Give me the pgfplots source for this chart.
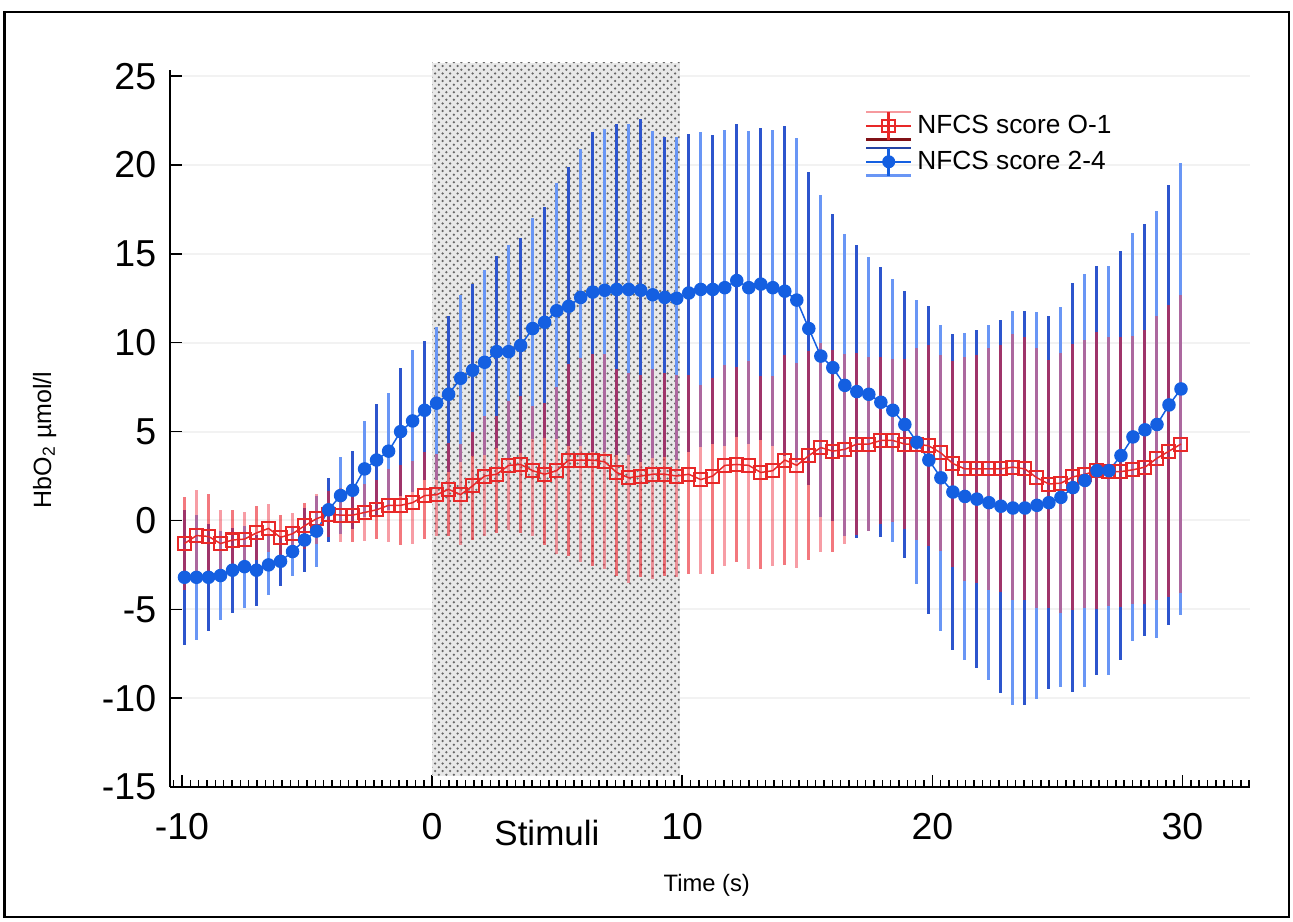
\documentclass[border=0pt]{standalone}
\usepackage{fontspec}
\setmainfont{Liberation Sans}
\usepackage{pgfplots}
\pgfplotsset{compat=1.18}
\usepackage{pgfplotstable}
\usetikzlibrary{patterns}

\definecolor{redmark}{RGB}{232,40,40}
\definecolor{redbar}{RGB}{235,30,40}
\definecolor{redbarlight}{RGB}{240,60,75}
\definecolor{bluemark}{RGB}{20,95,225}
\definecolor{bluebar}{RGB}{45,85,205}
\definecolor{bluebarlight}{RGB}{105,150,245}

% time, mean, half error (NFCS 2-4)
\pgfplotstableread{
t m e
-9.90 -3.2 3.8
-9.42 -3.2 3.5
-8.94 -3.2 3.0
-8.46 -3.1 2.5
-7.98 -2.8 2.4
-7.50 -2.6 2.3
-7.02 -2.8 2.0
-6.54 -2.5 1.7
-6.06 -2.3 1.4
-5.58 -1.75 1.35
-5.10 -1.1 1.8
-4.62 -0.6 2.0
-4.14 0.6 1.8
-3.66 1.4 2.15
-3.18 1.7 2.2
-2.70 2.9 2.7
-2.22 3.4 3.15
-1.74 3.9 3.3
-1.26 5.0 3.6
-0.78 5.6 4.0
-0.30 6.2 3.9
0.18 6.6 4.3
0.66 7.1 4.4
1.14 8.0 4.7
1.62 8.45 4.85
2.10 8.9 5.2
2.58 9.5 5.4
3.06 9.5 6.0
3.54 9.85 6.05
4.02 10.8 6.2
4.50 11.15 6.5
4.98 11.8 7.2
5.46 12.05 7.85
5.94 12.55 8.35
6.42 12.85 9.0
6.90 12.95 9.1
7.38 13.0 9.3
7.86 13.0 9.3
8.34 12.95 9.65
8.82 12.7 9.2
9.30 12.55 9.0
9.78 12.5 9.1
10.26 12.8 8.95
10.74 13.0 8.85
11.22 13.0 8.7
11.70 13.1 8.9
12.18 13.5 8.8
12.66 13.1 8.8
13.14 13.3 8.8
13.62 13.1 8.9
14.10 12.9 9.3
14.58 12.4 9.1
15.06 10.8 8.8
15.54 9.25 9.05
16.02 8.6 8.65
16.50 7.6 8.5
16.98 7.25 8.25
17.46 7.1 7.7
17.94 6.65 7.6
18.42 6.2 7.4
18.90 5.4 7.5
19.38 4.4 8.0
19.86 3.4 8.65
20.34 2.4 8.6
20.82 1.6 8.9
21.30 1.35 9.2
21.78 1.2 9.5
22.26 1.0 10.0
22.74 0.8 10.5
23.22 0.7 11.1
23.70 0.7 11.1
24.18 0.85 10.9
24.66 1.0 10.5
25.14 1.3 10.7
25.62 1.85 11.5
26.10 2.25 11.6
26.58 2.8 11.5
27.06 2.8 11.5
27.54 3.65 11.5
28.02 4.7 11.5
28.50 5.1 11.6
28.98 5.4 12.0
29.46 6.5 12.4
29.94 7.4 12.7
}\bluetab

% time, mean, half error (NFCS 0-1)
\pgfplotstableread{
t m e
-9.90 -1.3 2.6
-9.42 -0.85 2.55
-8.94 -0.9 2.4
-8.46 -1.3 1.9
-7.98 -1.1 1.7
-7.50 -1.05 1.5
-7.02 -0.7 1.5
-6.54 -0.45 1.35
-6.06 -0.95 1.25
-5.58 -0.75 1.15
-5.10 -0.3 1.3
-4.62 0.1 1.4
-4.14 0.35 1.3
-3.66 0.3 1.5
-3.18 0.3 1.5
-2.70 0.45 1.6
-2.22 0.6 1.65
-1.74 0.85 2.05
-1.26 0.85 2.25
-0.78 1.0 2.35
-0.30 1.4 2.45
0.18 1.45 2.3
0.66 1.75 2.6
1.14 1.45 2.85
1.62 1.95 3.05
2.10 2.5 3.35
2.58 2.6 3.3
3.06 3.1 3.65
3.54 3.15 3.85
4.02 2.8 3.65
4.50 2.6 4.0
4.98 2.8 4.7
5.46 3.4 5.4
5.94 3.4 5.75
6.42 3.4 5.95
6.90 3.3 6.05
7.38 2.7 5.8
7.86 2.4 5.9
8.34 2.5 5.7
8.82 2.6 5.9
9.30 2.6 5.7
9.78 2.5 5.7
10.26 2.6 5.6
10.74 2.3 5.3
11.22 2.5 5.5
11.70 3.1 5.65
12.18 3.15 5.5
12.66 3.1 5.85
13.14 2.7 5.45
13.62 2.8 5.35
14.10 3.4 5.9
14.58 3.1 5.75
15.06 3.65 5.9
15.54 4.1 5.9
16.02 3.9 5.7
16.50 4.0 5.35
16.98 4.3 5.1
17.46 4.3 4.9
17.94 4.5 4.7
18.42 4.5 4.6
18.90 4.3 4.8
19.38 4.3 5.4
19.86 4.2 5.65
20.34 3.8 5.5
20.82 3.2 5.8
21.30 2.9 6.3
21.78 2.9 6.4
22.26 2.9 6.8
22.74 2.9 6.95
23.22 3.0 7.5
23.70 2.9 7.4
24.18 2.4 7.3
24.66 2.05 7.0
25.14 2.1 7.3
25.62 2.45 7.5
26.10 2.6 7.55
26.58 2.8 7.8
27.06 2.75 7.55
27.54 2.75 7.6
28.02 2.85 7.55
28.50 3.0 7.7
28.98 3.5 8.0
29.46 3.9 8.2
29.94 4.3 8.4
}\redtab

\begin{document}
\begin{tikzpicture}
\begin{axis}[
    scale only axis,
    width=432pt, height=286.8pt,
    xmin=-10.48, xmax=32.7,
    ymin=-15, ymax=25.35,
    axis lines=left,
    axis line style={-, line width=1pt},
    xtick={-20,-10,...,40},
    ytick={-15,-10,...,25},
    minor x tick num=29,
    tick align=inside,
    major tick length=5pt,
    minor tick length=3pt,
    tick style={black, line width=0.6pt},
    ymajorgrids,
    major grid style={gray!10, line width=0.8pt},
    /pgf/number format/assume math mode=true,
    ticklabel style={font=\fontsize{15}{15}\selectfont},
    xticklabel style={yshift=-7pt},
    yticklabel style={xshift=-2pt},
    xlabel={Time (s)},
    xlabel style={at={(rel axis cs:0.497,-0.137)}, anchor=center, font=\fontsize{9.5}{10}\selectfont},
    ylabel={HbO\textsubscript{2} µmol/l},
    ylabel style={at={(rel axis cs:-0.116,0.484)}, anchor=center, font=\fontsize{10}{11}\selectfont},
    legend style={at={(rel axis cs:0.643,0.945)}, anchor=north west, draw=none, fill=none,
        font=\fontsize{10.5}{12}\selectfont, row sep=1.5pt, inner sep=0pt},
    legend cell align=left,
    clip=false,
]

% stimulus period
\addplot[forget plot, draw=none, fill=gray!18] coordinates {(0,-14.4) (0,25.75) (9.9,25.75) (9.9,-14.4)} -- cycle;
\addplot[forget plot, draw=none, pattern=crosshatch dots, pattern color=black!60] coordinates {(0,-14.4) (0,25.75) (9.9,25.75) (9.9,-14.4)} -- cycle;

% error bars (alternate shades, as in the original rendering)
\addplot[forget plot, draw=none, mark=none,
    x filter/.expression={mod(\coordindex,2)==0 ? x : nan},
    error bars/.cd, y dir=both, y explicit, error mark=none,
    error bar style={draw=bluebar, line width=1.2pt, solid}]
    table[x=t, y=m, y error=e] {\bluetab};
\addplot[forget plot, draw=none, mark=none,
    x filter/.expression={mod(\coordindex,2)==1 ? x : nan},
    error bars/.cd, y dir=both, y explicit, error mark=none,
    error bar style={draw=bluebarlight, line width=1.2pt, solid}]
    table[x=t, y=m, y error=e] {\bluetab};
\addplot[forget plot, draw=none, mark=none,
    x filter/.expression={mod(\coordindex,2)==0 ? x : nan},
    error bars/.cd, y dir=both, y explicit, error mark=none,
    error bar style={draw=redbar, draw opacity=0.6, line width=1.2pt, solid}]
    table[x=t, y=m, y error=e] {\redtab};
\addplot[forget plot, draw=none, mark=none,
    x filter/.expression={mod(\coordindex,2)==1 ? x : nan},
    error bars/.cd, y dir=both, y explicit, error mark=none,
    error bar style={draw=redbarlight, draw opacity=0.5, line width=1.2pt, solid}]
    table[x=t, y=m, y error=e] {\redtab};

% means
\addplot[redmark, line width=0.6pt, mark=square, mark size=2.6pt,
    mark options={line width=0.8pt, fill=none},
    legend image code/.code={
        \draw[redbar!45, line width=1pt] (0pt,5.5pt) -- (18pt,5.5pt);
        \draw[redbar!55!black, line width=1pt] (0pt,-5.5pt) -- (18pt,-5.5pt);
        \draw[redmark, line width=1pt] (0pt,0pt) -- (18pt,0pt);
        \draw[redmark, line width=1pt] (9pt,-5.5pt) -- (9pt,5.5pt);
        \draw[redmark, line width=0.8pt] (6.5pt,-2.5pt) rectangle (11.5pt,2.5pt);
    }]
    table[x=t, y=m] {\redtab};
\addlegendentry{NFCS score O-1}

\addplot[bluemark, line width=0.6pt, mark=*, mark size=2.4pt,
    legend image code/.code={
        \draw[bluebar!80!black, line width=1pt] (0pt,5.5pt) -- (18pt,5.5pt);
        \draw[bluebarlight, line width=1pt] (0pt,-5.5pt) -- (18pt,-5.5pt);
        \draw[bluemark, line width=1pt] (0pt,0pt) -- (18pt,0pt);
        \draw[bluemark, line width=1pt] (9pt,-5.5pt) -- (9pt,5.5pt);
        \fill[bluemark] (9pt,0pt) circle (2.3pt);
    }]
    table[x=t, y=m] {\bluetab};
\addlegendentry{NFCS score 2-4}

\node[font=\fontsize{14}{15}\selectfont] at (rel axis cs:0.349,-0.064) {Stimuli};

% outer frame
\path (rel axis cs:-0.1574,-0.1869) rectangle (rel axis cs:1.0398,1.0976);
\draw[line width=1pt] (rel axis cs:-0.153,-0.181) rectangle (rel axis cs:1.036,1.081);
\end{axis}
\end{tikzpicture}
\end{document}
